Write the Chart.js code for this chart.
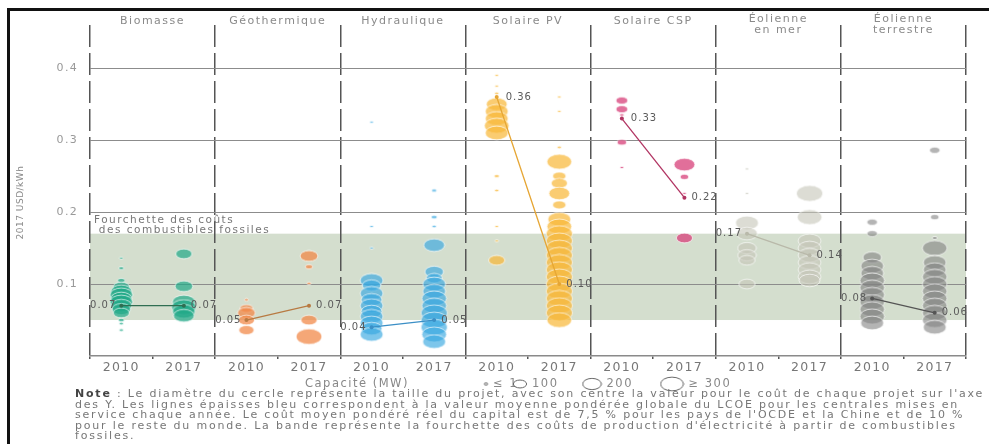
<!DOCTYPE html>
<html>
<head>
<meta charset="utf-8">
<script src="https://cdn.jsdelivr.net/npm/chart.js@4.4.0/dist/chart.umd.min.js"></script>
<style>
  body { margin: 0; background: #fff; width: 989px; height: 444px; overflow: hidden; position: relative; font-family: "DejaVu Sans", sans-serif; }
  #frame { position: absolute; left: 7px; top: 8px; width: 1000px; height: 460px; border-left: 3px solid #111; border-top: 3px solid #111; }
  #wrap { position: absolute; left: 0; top: 0; width: 989px; height: 392px; }
  #note { position: absolute; left: 75px; top: 389px; font-size: 11px; line-height: 10.5px; color: #777; letter-spacing: 1.8px; white-space: nowrap; }
  #note b { color: #444; }
</style>
</head>
<body>
<div id="frame"></div>
<div id="wrap"><canvas id="chart"></canvas></div>
<div id="note">
<b>Note</b> : Le diamètre du cercle représente la taille du projet, avec son centre la valeur pour le coût de chaque projet sur l'axe<br>
des Y. Les lignes épaisses bleu correspondent à la valeur moyenne pondérée globale du LCOE pour les centrales mises en<br>
service chaque année. Le coût moyen pondéré réel du capital est de 7,5 % pour les pays de l'OCDE et la Chine et de 10 %<br>
pour le reste du monde. La bande représente la fourchette des coûts de production d'électricité à partir de combustibles<br>
fossiles.
</div>
<script>
const categories = [['Biomasse'], ['Géothermique'], ['Hydraulique'], ['Solaire PV'], ['Solaire CSP'], ['Éolienne', 'en mer'], ['Éolienne', 'terrestre']];
const years = ['2010', '2017'];
const yTicks = [0.1, 0.2, 0.3, 0.4];

// moyenne pondérée du LCOE (USD/kWh)
const avg2010 = [0.07, 0.05, 0.04, 0.36, 0.33, 0.17, 0.08];
const avg2017 = [0.07, 0.07, 0.05, 0.10, 0.22, 0.14, 0.06];

// fourchette des combustibles fossiles
const fossilBand = [0.05, 0.17];

// légende capacité (MW)
const legendSizes = [1, 100, 200, 300];

// projets : [LCOE, capacité MW]
const biomasse2010 = [[0.136, 5], [0.122, 15], [0.105, 30], [0.096, 150], [0.09, 250], [0.085, 300], [0.08, 250], [0.075, 300], [0.07, 250], [0.065, 200], [0.06, 150], [0.05, 20], [0.045, 10], [0.036, 10]];
const biomasse2017 = [[0.142, 150], [0.097, 180], [0.075, 300], [0.068, 350], [0.062, 300], [0.056, 250]];
const geo2010 = [[0.078, 10], [0.066, 100], [0.06, 180], [0.05, 150], [0.036, 130]];
const geo2017 = [[0.139, 180], [0.124, 30], [0.101, 10], [0.05, 150], [0.027, 380]];
const hydro2010 = [[0.325, 5], [0.18, 5], [0.15, 3], [0.105, 300], [0.098, 200], [0.087, 300], [0.078, 250], [0.07, 300], [0.062, 250], [0.055, 300], [0.046, 300], [0.038, 250], [0.03, 300]];
const hydro2017 = [[0.23, 15], [0.193, 20], [0.18, 10], [0.154, 250], [0.117, 200], [0.108, 150], [0.1, 300], [0.09, 300], [0.08, 350], [0.07, 350], [0.06, 400], [0.05, 400], [0.04, 400], [0.03, 350], [0.02, 300]];
const pv2010 = [[0.39, 5], [0.375, 5], [0.365, 10], [0.35, 250], [0.34, 300], [0.33, 300], [0.32, 350], [0.31, 300], [0.25, 15], [0.23, 10], [0.18, 5], [0.16, 5], [0.133, 150]];
const pv2017 = [[0.36, 5], [0.34, 5], [0.29, 10], [0.27, 350], [0.25, 100], [0.24, 150], [0.226, 250], [0.21, 100], [0.19, 300], [0.18, 350], [0.17, 400], [0.16, 400], [0.15, 400], [0.14, 400], [0.13, 400], [0.12, 400], [0.11, 400], [0.1, 400], [0.09, 400], [0.08, 400], [0.07, 400], [0.06, 400], [0.05, 350]];
const csp2010 = [[0.355, 80], [0.343, 80], [0.335, 10], [0.297, 50], [0.262, 5]];
const csp2017 = [[0.266, 250], [0.249, 40], [0.226, 5], [0.164, 150]];
const offshore2010 = [[0.26, 8], [0.226, 5], [0.185, 300], [0.17, 250], [0.15, 200], [0.14, 200], [0.133, 150], [0.1, 150]];
const offshore2017 = [[0.226, 400], [0.193, 350], [0.16, 300], [0.15, 300], [0.14, 300], [0.13, 300], [0.12, 300], [0.11, 300], [0.105, 250]];
const onshore2010 = [[0.186, 60], [0.17, 60], [0.137, 200], [0.125, 300], [0.115, 300], [0.105, 350], [0.095, 350], [0.085, 350], [0.075, 350], [0.065, 350], [0.055, 350], [0.046, 300]];
const onshore2017 = [[0.286, 60], [0.193, 40], [0.164, 15], [0.15, 350], [0.13, 300], [0.12, 300], [0.11, 350], [0.1, 350], [0.09, 350], [0.08, 350], [0.07, 350], [0.06, 350], [0.05, 350], [0.04, 300]];

const projects = [
  [biomasse2010, biomasse2017], [geo2010, geo2017], [hydro2010, hydro2017],
  [pv2010, pv2017], [csp2010, csp2017], [offshore2010, offshore2017], [onshore2010, onshore2017]
];

const fills = ['rgba(32,168,135,0.7)', 'rgba(242,138,74,0.75)', 'rgba(56,168,224,0.65)', 'rgba(248,184,58,0.72)', 'rgba(216,70,126,0.78)', 'rgba(196,196,184,0.6)', 'rgba(130,130,130,0.6)'];
const lineCols = ['#2f6e52', '#b87a42', '#3b8fc6', '#e6a634', '#b13462', '#b9b9aa', '#555555'];
const labelLeft2010 = [true, true, true, false, false, true, true];

function radius(mw) {
  return Math.max(1.5, 0.55 * Math.sqrt(mw));
}

// bulles en ellipses (image de point)
const cache = {};
function ellipse(r, fill, stroke) {
  const key = r.toFixed(2) + fill + stroke;
  if (cache[key]) return cache[key];
  const rx = r * 1.2, ry = r * 0.72;
  const c = document.createElement('canvas');
  c.width = Math.ceil(rx * 2) + 2;
  c.height = Math.ceil(ry * 2) + 2;
  const g = c.getContext('2d');
  g.beginPath();
  g.ellipse(c.width / 2, c.height / 2, rx, ry, 0, 0, Math.PI * 2);
  if (fill) { g.fillStyle = fill; g.fill(); }
  g.lineWidth = 1;
  g.strokeStyle = stroke;
  g.stroke();
  cache[key] = c;
  return c;
}

const datasets = [];
projects.forEach((pair, i) => {
  pair.forEach((list, j) => {
    datasets.push({
      type: 'bubble',
      data: list.map(p => ({ x: 2 * i + j + 0.5, y: p[0], r: radius(p[1]) })),
      backgroundColor: fills[i],
      pointStyle: ctx => ellipse(ctx.raw ? ctx.raw.r : 3, fills[i], 'rgba(255,255,255,0.65)'),
      order: 2
    });
  });
  datasets.push({
    type: 'line',
    data: [{ x: 2 * i + 0.5, y: avg2010[i] }, { x: 2 * i + 1.5, y: avg2017[i] }],
    borderColor: lineCols[i],
    borderWidth: 1.3,
    pointRadius: 2,
    pointBackgroundColor: lineCols[i],
    pointBorderWidth: 0,
    order: 1
  });
});

const decor = {
  id: 'decor',
  beforeDraw(chart) {
    const { ctx, chartArea: a, scales: { y } } = chart;
    const top = y.getPixelForValue(fossilBand[1]);
    const bot = y.getPixelForValue(fossilBand[0]);
    ctx.save();
    ctx.fillStyle = 'rgba(205,216,197,0.85)';
    ctx.fillRect(a.left, top, a.right - a.left, bot - top);
    ctx.restore();
    ctx.letterSpacing = '1.3px';
  },
  afterDraw(chart) {
    const { ctx, chartArea: a, scales: { x, y } } = chart;
    ctx.save();
    ctx.letterSpacing = '1.5px';
    ctx.fillStyle = '#8a8a8a';
    ctx.font = '11px "DejaVu Sans"';
    ctx.textAlign = 'center';
    ctx.textBaseline = 'middle';
    categories.forEach((c, i) => {
      const cx = x.getPixelForValue(2 * i + 1);
      if (c.length === 1) ctx.fillText(c[0], cx, 21);
      else { ctx.fillText(c[0], cx, 19); ctx.fillText(c[1], cx, 30); }
    });

    // bande fossile
    ctx.textAlign = 'left';
    ctx.fillStyle = '#777';
    ctx.font = '10.5px "DejaVu Sans"';
    const bt = y.getPixelForValue(fossilBand[1]);
    ctx.fillText('Fourchette des coûts', a.left + 4, bt - 13);
    ctx.fillText(' des combustibles fossiles', a.left + 4, bt - 3);

    // étiquettes moyennes
    ctx.letterSpacing = '1px';
    ctx.font = '10px "DejaVu Sans"';
    ctx.fillStyle = '#5a5a5a';
    for (let i = 0; i < categories.length; i++) {
      const x0 = x.getPixelForValue(2 * i + 0.5), y0 = y.getPixelForValue(avg2010[i]);
      const x1 = x.getPixelForValue(2 * i + 1.5), y1 = y.getPixelForValue(avg2017[i]);
      if (labelLeft2010[i]) { ctx.textAlign = 'right'; ctx.fillText(avg2010[i].toFixed(2), x0 - 5, y0); }
      else { ctx.textAlign = 'left'; ctx.fillText(avg2010[i].toFixed(2), x0 + 9, y0); }
      ctx.textAlign = 'left';
      ctx.fillText(avg2017[i].toFixed(2), x1 + 7, y1);
    }

    // titre axe Y
    ctx.save();
    ctx.translate(21, (a.top + a.bottom) / 2 + 12);
    ctx.rotate(-Math.PI / 2);
    ctx.textAlign = 'center';
    ctx.font = '9px "DejaVu Sans"';
    ctx.fillStyle = '#888';
    ctx.letterSpacing = '0.5px';
    ctx.fillText('2017 USD/kWh', 0, 0);
    ctx.restore();

    // légende capacité
    const ly = 384;
    ctx.letterSpacing = '1.5px';
    ctx.font = '11.5px "DejaVu Sans"';
    ctx.fillStyle = '#888';
    ctx.textAlign = 'center';
    ctx.fillText('Capacité (MW)', 357, ly);
    const lx = [486, 520, 592, 672];
    const lt = ['≤ 1', '100', '200', '≥ 300'];
    ctx.textAlign = 'left';
    legendSizes.forEach((s, k) => {
      const r = radius(s);
      const img = ellipse(r, null, '#666');
      ctx.drawImage(img, lx[k] - img.width / 2, ly - img.height / 2);
      ctx.fillText(lt[k], lx[k] + img.width / 2 + 4, ly);
    });
    ctx.restore();
  }
};

new Chart(document.getElementById('chart'), {
  type: 'bubble',
  data: { datasets: datasets },
  options: {
    responsive: true,
    maintainAspectRatio: false,
    animation: false,
    layout: { padding: { top: 25, right: 23, left: 0, bottom: 0 } },
    plugins: { legend: { display: false }, tooltip: { enabled: false } },
    scales: {
      x: {
        type: 'linear',
        min: 0,
        max: 14,
        afterBuildTicks: s => {
          const t = [];
          for (let v = 0; v <= 14; v += 0.5) t.push({ value: v });
          s.ticks = t;
        },
        afterFit: s => { s.height = 36; },
        ticks: {
          autoSkip: false,
          maxRotation: 0,
          padding: 1,
          color: '#777',
          font: { family: 'DejaVu Sans', size: 12.5 },
          callback: v => (v % 1 === 0.5 ? years[Math.floor(v) % 2] : '')
        },
        grid: {
          color: c => (c.tick && c.tick.value % 2 === 0 ? '#555' : 'rgba(0,0,0,0)'),
          tickColor: c => (c.tick && c.tick.value % 1 === 0 ? '#555' : 'rgba(0,0,0,0)'),
          lineWidth: 1.5,
          tickLength: 3
        },
        border: { display: true, color: '#8a8a8a', width: 1.5, dash: [22, 6] }
      },
      y: {
        min: 0,
        max: 0.46,
        afterBuildTicks: s => { s.ticks = [0].concat(yTicks).map(v => ({ value: v })); },
        afterFit: s => { s.width = 90; },
        ticks: {
          padding: 12,
          color: '#999',
          font: { family: 'DejaVu Sans', size: 11 },
          callback: v => (v === 0 ? '' : v.toFixed(1))
        },
        grid: {
          color: c => (c.tick && c.tick.value === 0 ? 'rgba(0,0,0,0)' : '#8c8c8c'),
          lineWidth: 1,
          drawTicks: false
        },
        border: { display: false }
      }
    }
  },
  plugins: [decor]
});
</script>
</body>
</html>
